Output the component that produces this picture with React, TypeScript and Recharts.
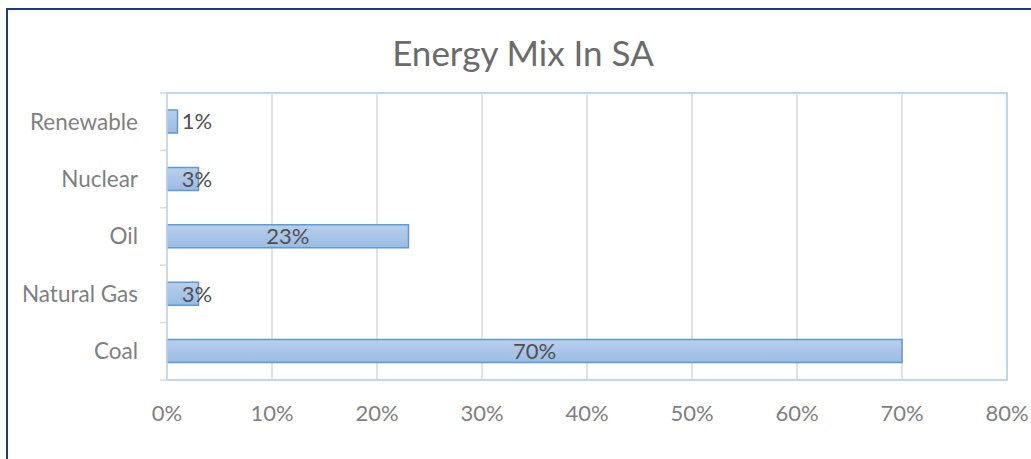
import React from "react";
import {
  BarChart,
  Bar,
  XAxis,
  YAxis,
  CartesianGrid,
  ReferenceArea,
  LabelList,
} from "recharts";

// Energy sources, listed top to bottom
const sources = ["Renewable", "Nuclear", "Oil", "Natural Gas", "Coal"];
// Share of each source in the mix (percent)
const shares = [1, 3, 23, 3, 70];
// Value-axis ticks (percent)
const percentTicks = [0, 10, 20, 30, 40, 50, 60, 70, 80];

const rows = sources.map((name, i) => ({ name, share: shares[i] }));

const FONT = "Lato, 'Open Sans', sans-serif";
const W = 1031;
const H = 459;

const CategoryTick = (props: any) => {
  const { x, y, payload, index, visibleTicksCount } = props;
  const half = payload && typeof payload.offset === "number" && payload.offset > 0 ? payload.offset : 28.7;
  const lineX1 = x + 22;
  const lineX2 = x + 29;
  const isLast = index === visibleTicksCount - 1;
  return (
    <g>
      <line x1={lineX1} x2={lineX2} y1={y - half} y2={y - half} stroke="#D9D9D9" strokeWidth={1.5} />
      {isLast && (
        <line x1={lineX1} x2={lineX2} y1={y + half} y2={y + half} stroke="#D9D9D9" strokeWidth={1.5} />
      )}
      <text
        x={x}
        y={y}
        dy="0.355em"
        textAnchor="end"
        fill="#7F7F7F"
        fontSize={22.5}
        fontFamily={FONT}
      >
        {payload.value}
      </text>
    </g>
  );
};

const ShareLabel = (props: any) => {
  const { x, y, width, height, value } = props;
  const cx = Math.max(x + width / 2, x + 30);
  return (
    <text
      x={cx}
      y={y + height / 2}
      dy="0.355em"
      textAnchor="middle"
      fill="#505050"
      fontSize={22}
      fontFamily={FONT}
    >
      {`${value}%`}
    </text>
  );
};

export default function App() {
  return (
    <div
      style={{
        position: "fixed",
        left: 0,
        top: 0,
        width: W,
        height: H,
        background: "#fff",
        overflow: "hidden",
        fontFamily: FONT,
      }}
    >
      {/* frame */}
      <div style={{ position: "absolute", left: 6, top: 8, width: W, height: 2, background: "#203A78" }} />
      <div style={{ position: "absolute", left: 6, top: 8, width: 2, height: H, background: "#203A78" }} />
      <div
        style={{
          position: "absolute",
          left: 0,
          width: 1046,
          top: 30,
          textAlign: "center",
          fontSize: 35,
          color: "#6B6B6B",
          lineHeight: "44px",
        }}
      >
        Energy Mix In SA
      </div>
      <div style={{ position: "absolute", left: 0, top: 0 }}>
        <BarChart
          width={W}
          height={H}
          data={rows}
          layout="vertical"
          margin={{ top: 93, right: 24, bottom: 49, left: 0 }}
        >
          <defs>
            <linearGradient id="barFill" x1="0" y1="0" x2="0" y2="1">
              <stop offset="0%" stopColor="#B9CFEB" />
              <stop offset="100%" stopColor="#9BBBE4" />
            </linearGradient>
          </defs>
          <CartesianGrid horizontal={false} stroke="#D9D9D9" strokeWidth={1.5} />
          <ReferenceArea x1={0} x2={80} fill="none" stroke="#BDD7EE" strokeWidth={2} ifOverflow="visible" />
          <XAxis
            type="number"
            domain={[0, 80]}
            ticks={percentTicks}
            tickFormatter={(v: number) => `${v}%`}
            height={30}
            axisLine={{ stroke: "#BDD7EE", strokeWidth: 2 }}
            tickLine={false}
            tickSize={0}
            tickMargin={25}
            tick={{ fill: "#7F7F7F", fontSize: 22, fontFamily: FONT }}
            interval={0}
          />
          <YAxis
            type="category"
            dataKey="name"
            width={167}
            axisLine={{ stroke: "#D9D9D9", strokeWidth: 1.5 }}
            tickLine={false}
            tickSize={7}
            tickMargin={22}
            tick={<CategoryTick />}
            interval={0}
          />
          <Bar
            dataKey="share"
            barSize={23}
            fill="url(#barFill)"
            stroke="#5B9BD5"
            strokeWidth={1.5}
            isAnimationActive={false}
          >
            <LabelList dataKey="share" content={<ShareLabel />} />
          </Bar>
        </BarChart>
      </div>
    </div>
  );
}
